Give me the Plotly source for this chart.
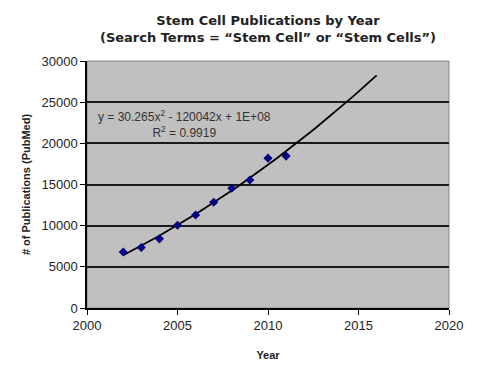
import numpy as np
import plotly.graph_objects as go

years = [2002, 2003, 2004, 2005, 2006, 2007, 2008, 2009, 2010, 2011]
pubs = [6800, 7350, 8400, 10050, 11300, 12850, 14550, 15550, 18200, 18450]
trend_start, trend_end = 2002, 2016
x_ticks = [2000, 2005, 2010, 2015, 2020]
y_ticks = [0, 5000, 10000, 15000, 20000, 25000, 30000]

coef = np.polyfit(years, pubs, 2)
tx = np.linspace(trend_start, trend_end, 60)
ty = np.polyval(coef, tx)

fig = go.Figure()
fig.add_trace(go.Scatter(x=tx, y=ty, mode="lines",
                         line=dict(color="black", width=1.8), hoverinfo="skip"))
fig.add_trace(go.Scatter(x=years, y=pubs, mode="markers",
                         marker=dict(symbol="diamond", color="#000080", size=7)))

fig.update_layout(
    width=480, height=370,
    paper_bgcolor="white", plot_bgcolor="#C0C0C0",
    showlegend=False,
    margin=dict(l=79, r=39, t=53, b=70, autoexpand=False),
    title=dict(text="Stem Cell Publications by Year<br>(Search Terms = “Stem Cell” or “Stem Cells”)",
               x=0.5, xanchor="center", xref="paper", yref="container",
               y=1 - 17 / 370, yanchor="top",
               font=dict(family="DejaVu Sans", size=13, color="#222222", weight="bold")),
    font=dict(family="Liberation Sans, Arial", size=13, color="#222222"),
)
fig.update_xaxes(range=[2000, 2020], tickvals=x_ticks, ticktext=[str(v) for v in x_ticks],
                 showgrid=False, zeroline=False, automargin=False,
                 showline=True, linecolor="black", linewidth=1.5,
                 ticks="outside", ticklen=5, tickcolor="black",
                 title=dict(text="<b>Year</b>", font=dict(size=11), standoff=19))
fig.update_yaxes(range=[0, 30000], tickvals=y_ticks, ticktext=[str(v) for v in y_ticks],
                 showgrid=True, gridcolor="#1a1a1a", gridwidth=1.5, zeroline=False,
                 showline=True, linecolor="black", linewidth=1.5, automargin=False,
                 ticks="outside", ticklen=5, tickcolor="black",
                 title=dict(text="<b># of Publications (PubMed)</b>", font=dict(size=11), standoff=9))
fig.add_shape(type="rect", xref="paper", yref="paper", x0=0, x1=1, y0=0, y1=1,
              line=dict(color="#888888", width=1), layer="below")
fig.add_annotation(xref="x", yref="y", x=2005.4, y=22400,
                   text="y = 30.265x<sup>2</sup> - 120042x + 1E+08<br>R<sup>2</sup> = 0.9919",
                   showarrow=False, align="center",
                   font=dict(family="Liberation Sans, Arial", size=12, color="#333333"))
fig.write_html("out.html")
